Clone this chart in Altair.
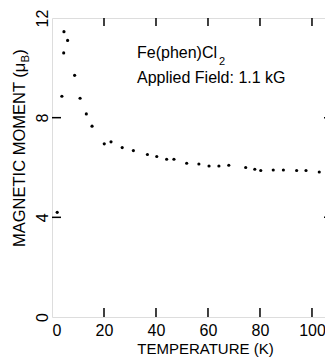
import altair as alt
import pandas as pd

# data
temps = [2.0, 3.8, 4.5, 4.6, 6.0, 8.7, 10.8, 13.2, 15.4, 20.1, 22.7, 27.0, 31.3, 36.7,
         40.3, 44.1, 46.9, 51.8, 56.5, 60.4, 64.2, 68.0, 74.5, 78.0, 80.3, 85.1, 89.0,
         94.1, 97.7, 102.8]
moments = [4.2, 8.86, 10.6, 11.45, 11.1, 9.7, 8.78, 8.15, 7.66, 6.95, 7.03, 6.8, 6.68,
           6.52, 6.44, 6.33, 6.33, 6.17, 6.14, 6.06, 6.06, 6.09, 6.0, 5.93, 5.88, 5.9,
           5.9, 5.88, 5.88, 5.82]
x_ticks = [0, 20, 40, 60, 80, 100]
y_ticks = [0, 4, 8, 12]
x_inner_ticks = [20, 40, 60, 80, 100]
y_inner_ticks = [4, 8]

df = pd.DataFrame({"T": temps, "M": moments})
xt = pd.DataFrame({"T": x_inner_ticks})
yt = pd.DataFrame({"M": y_inner_ticks})

W, H = 280, 299
FONT = "Liberation Sans"

xscale = alt.Scale(domain=[0, 107.7], nice=False, zero=False)
yscale = alt.Scale(domain=[0, 12], nice=False, zero=False)

points = alt.Chart(df).mark_circle(size=10, color="black", opacity=1).encode(
    x=alt.X("T:Q", scale=xscale,
            axis=alt.Axis(values=x_ticks, title="TEMPERATURE (K)", ticks=False, tickSize=0,
                          domain=False, grid=False, labelPadding=5, labelFontSize=16,
                          labelFont=FONT, labelColor="black", titleFont=FONT,
                          titleFontSize=15, titleFontWeight="normal", titleColor="black",
                          titleBaseline="alphabetic", titleY=36, titleX=153,
                          titleAlign="center")),
    y=alt.Y("M:Q", scale=yscale,
            axis=alt.Axis(values=y_ticks, title="", ticks=False,
                          tickSize=0, domain=False, grid=False, labelAngle=270,
                          labelAlign="center", labelBaseline="bottom", labelPadding=2,
                          labelFontSize=16, labelFont=FONT, labelColor="black")),
)

bottom_ticks = alt.Chart(xt).mark_rule(color="black", strokeWidth=1.5).encode(
    x=alt.X("T:Q", scale=xscale), y=alt.value(H), y2=alt.value(H - 9))
top_ticks = alt.Chart(xt).mark_rule(color="black", strokeWidth=1.5).encode(
    x=alt.X("T:Q", scale=xscale), y=alt.value(0), y2=alt.value(8))
left_ticks = alt.Chart(yt).mark_rule(color="black", strokeWidth=1.5).encode(
    y=alt.Y("M:Q", scale=yscale), x=alt.value(0), x2=alt.value(9))
right_ticks = alt.Chart(yt).mark_rule(color="black", strokeWidth=1.5).encode(
    y=alt.Y("M:Q", scale=yscale), x=alt.value(W), x2=alt.value(W - 8))

def txt(s, size, x, y, angle=0):
    kw = dict(align="left", baseline="alphabetic", fontSize=size, font=FONT, color="black")
    if angle:
        kw["angle"] = angle
    return alt.Chart(pd.DataFrame({"t": [s]})).mark_text(**kw).encode(
        text="t:N", x=alt.value(x), y=alt.value(y))

# annotation
label1 = txt("Fe(phen)Cl", 16, 85, 40)
label1b = txt("2", 11, 167, 47)
label2 = txt("Applied Field: 1.1 kG", 16, 85, 65)

# rotated y title with subscript B
ytitle1 = txt("MAGNETIC MOMENT (μ", 16.5, -27, 229, 270)
ytitle2 = txt("B", 11.5, -23, 44.4, 270)
ytitle3 = txt(")", 16.5, -27, 36.7, 270)

chart = alt.layer(points, bottom_ticks, top_ticks, left_ticks, right_ticks,
                  label1, label1b, label2, ytitle1, ytitle2, ytitle3).properties(
    width=W, height=H,
    autosize=alt.AutoSizeParams(type="none"),
    padding={"left": 44, "top": 10, "right": -7, "bottom": 50},
).configure_view(stroke="black", strokeWidth=1.5).configure(background="white")

chart.save("out.html", embed_options={"renderer": "svg", "actions": False})
